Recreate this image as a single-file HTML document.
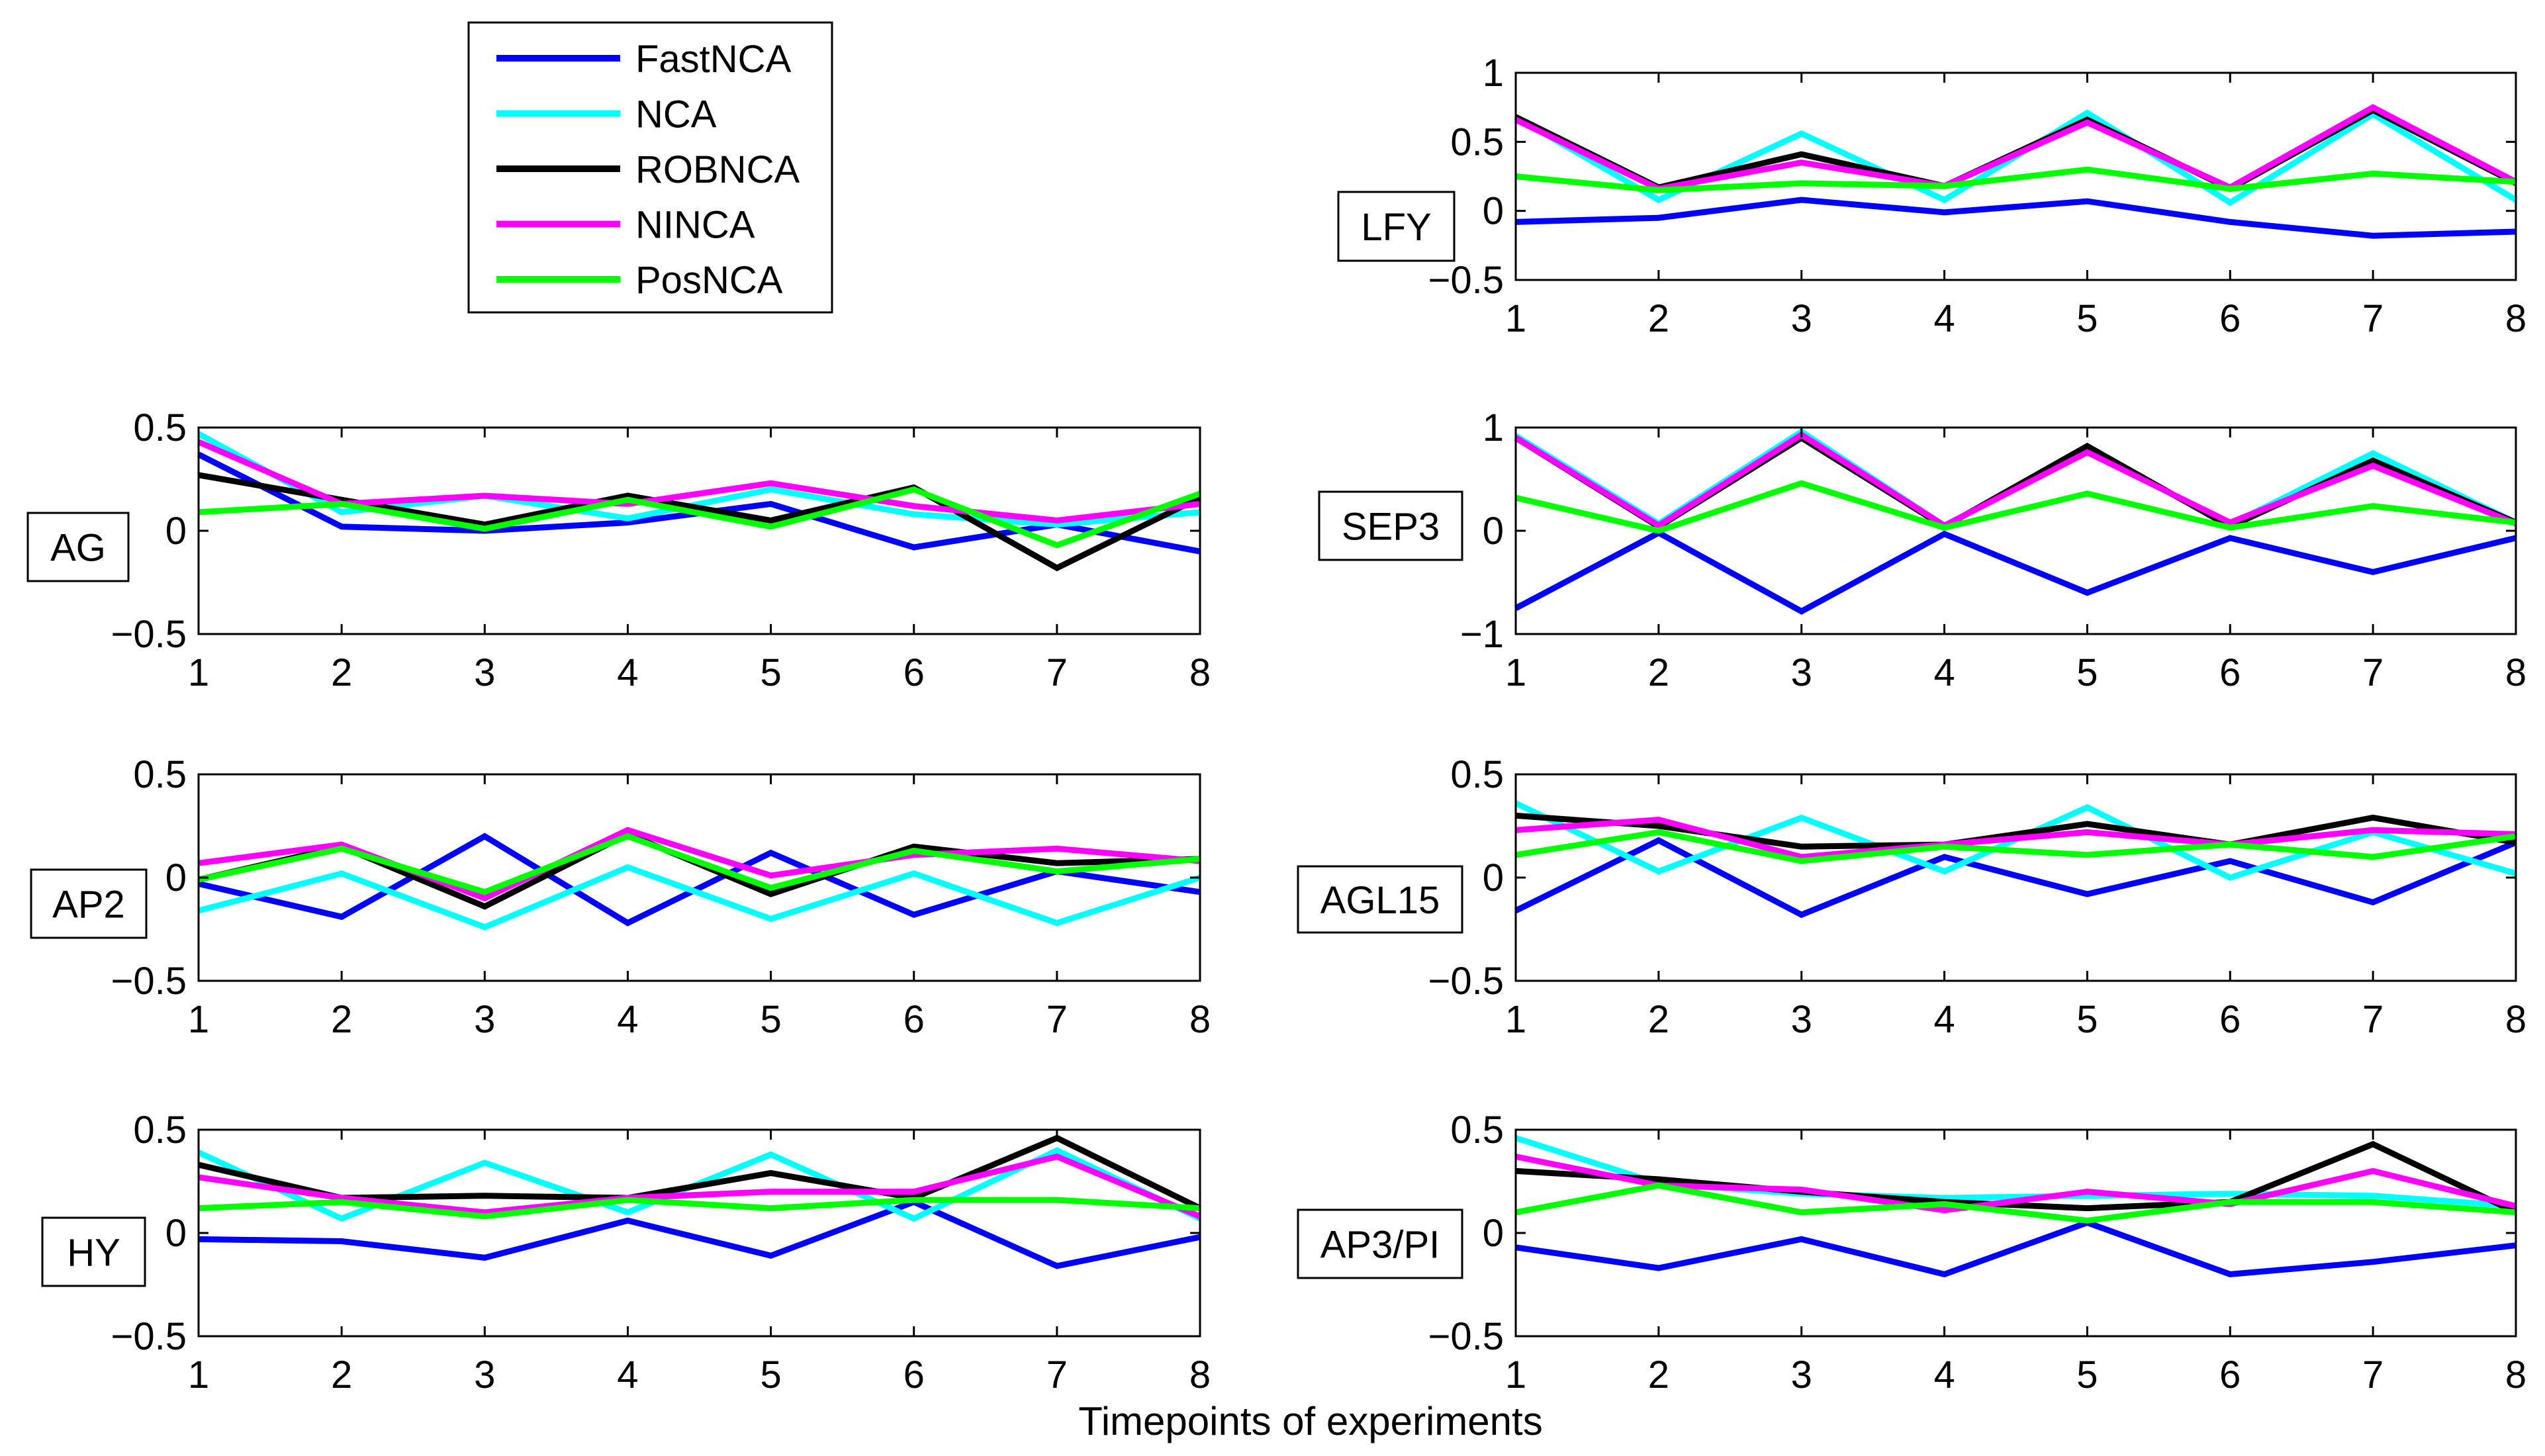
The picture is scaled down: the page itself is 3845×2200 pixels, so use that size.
<!DOCTYPE html>
<html><head><meta charset="utf-8">
<style>
html,body{margin:0;padding:0;background:#fff;}
svg{display:block;}
text{font-family:"Liberation Sans",Arial,sans-serif;fill:#000;}
</style></head>
<body>
<svg id="fig" width="3845" height="2200" viewBox="0 0 3845 2200" xmlns="http://www.w3.org/2000/svg">
<rect width="3845" height="2200" fill="#fff"/>
</svg>
<script>
const xCats=[1,2,3,4,5,6,7,8];
const seriesNames=["FastNCA","NCA","ROBNCA","NINCA","PosNCA"];
const seriesColors=["#0000ff","#00ffff","#000000","#ff00ff","#00ff00"];

const lfyFast=[-0.08,-0.05,0.08,-0.01,0.07,-0.08,-0.18,-0.15];
const lfyNca=[0.68,0.08,0.56,0.08,0.71,0.06,0.70,0.08];
const lfyRob=[0.68,0.17,0.41,0.18,0.66,0.16,0.73,0.20];
const lfyNinca=[0.66,0.16,0.35,0.18,0.64,0.17,0.75,0.21];
const lfyPos=[0.25,0.15,0.20,0.18,0.30,0.16,0.27,0.21];

const agFast=[0.37,0.02,0.0,0.04,0.13,-0.08,0.03,-0.10];
const agNca=[0.47,0.09,0.17,0.06,0.20,0.08,0.03,0.09];
const agRob=[0.27,0.15,0.03,0.17,0.05,0.21,-0.18,0.16];
const agNinca=[0.43,0.13,0.17,0.13,0.23,0.12,0.05,0.13];
const agPos=[0.09,0.13,0.01,0.15,0.02,0.20,-0.07,0.18];

const sepFast=[-0.75,-0.02,-0.78,-0.03,-0.60,-0.07,-0.40,-0.07];
const sepNca=[0.92,0.07,0.96,0.05,0.78,0.06,0.75,0.08];
const sepRob=[0.90,0.04,0.90,0.04,0.82,0.04,0.68,0.08];
const sepNinca=[0.90,0.05,0.93,0.05,0.76,0.08,0.63,0.07];
const sepPos=[0.32,0.0,0.46,0.03,0.36,0.03,0.24,0.08];

const ap2Fast=[-0.03,-0.19,0.20,-0.22,0.12,-0.18,0.03,-0.07];
const ap2Nca=[-0.16,0.02,-0.24,0.05,-0.20,0.02,-0.22,0.00];
const ap2Rob=[-0.01,0.15,-0.14,0.21,-0.08,0.15,0.07,0.09];
const ap2Ninca=[0.07,0.16,-0.10,0.23,0.01,0.11,0.14,0.08];
const ap2Pos=[-0.01,0.14,-0.07,0.20,-0.05,0.13,0.03,0.09];

const aglFast=[-0.16,0.18,-0.18,0.10,-0.08,0.08,-0.12,0.17];
const aglNca=[0.36,0.03,0.29,0.03,0.34,0.00,0.22,0.02];
const aglRob=[0.30,0.25,0.15,0.16,0.26,0.16,0.29,0.17];
const aglNinca=[0.23,0.28,0.10,0.16,0.22,0.16,0.23,0.21];
const aglPos=[0.11,0.22,0.08,0.15,0.11,0.16,0.10,0.20];

const hyFast=[-0.03,-0.04,-0.12,0.06,-0.11,0.15,-0.16,-0.02];
const hyNca=[0.39,0.07,0.34,0.10,0.38,0.07,0.40,0.07];
const hyRob=[0.33,0.17,0.18,0.17,0.29,0.17,0.46,0.12];
const hyNinca=[0.27,0.17,0.10,0.17,0.20,0.20,0.37,0.08];
const hyPos=[0.12,0.15,0.08,0.16,0.12,0.16,0.16,0.12];

const ap3Fast=[-0.07,-0.17,-0.03,-0.20,0.05,-0.20,-0.14,-0.06];
const ap3Nca=[0.46,0.24,0.19,0.17,0.18,0.19,0.18,0.13];
const ap3Rob=[0.30,0.26,0.20,0.15,0.12,0.15,0.43,0.10];
const ap3Ninca=[0.37,0.23,0.21,0.11,0.20,0.14,0.30,0.13];
const ap3Pos=[0.10,0.23,0.10,0.14,0.06,0.15,0.15,0.10];

const ticksLFY=[-0.5,0,0.5,1];
const ticksSEP=[-1,0,1];
const ticksStd=[-0.5,0,0.5];
const tickLabelsLFY=["\u22120.5","0","0.5","1"];
const tickLabelsSEP=["\u22121","0","1"];
const tickLabelsStd=["\u22120.5","0","0.5"];

const NS="http://www.w3.org/2000/svg";
const svg=document.getElementById('fig');
function mk(tag,attrs,parent){const e=document.createElementNS(NS,tag);for(const k in attrs)e.setAttribute(k,attrs[k]);(parent||svg).appendChild(e);return e;}

const panels=[
 {name:"LFY",x0:2290,x1:3801,y0:110,y1:423,ymin:-0.5,ymax:1,ticks:ticksLFY,tl:tickLabelsLFY,data:[lfyFast,lfyNca,lfyRob,lfyNinca,lfyPos],box:[2022,290,175,104]},
 {name:"AG",x0:300,x1:1813,y0:646,y1:958,ymin:-0.5,ymax:0.5,ticks:ticksStd,tl:tickLabelsStd,data:[agFast,agNca,agRob,agNinca,agPos],box:[42,775,152,103]},
 {name:"SEP3",x0:2290,x1:3801,y0:646,y1:958,ymin:-1,ymax:1,ticks:ticksSEP,tl:tickLabelsSEP,data:[sepFast,sepNca,sepRob,sepNinca,sepPos],box:[1993,743,216,103]},
 {name:"AP2",x0:300,x1:1813,y0:1170,y1:1482,ymin:-0.5,ymax:0.5,ticks:ticksStd,tl:tickLabelsStd,data:[ap2Fast,ap2Nca,ap2Rob,ap2Ninca,ap2Pos],box:[47,1314,174,103]},
 {name:"AGL15",x0:2290,x1:3801,y0:1170,y1:1482,ymin:-0.5,ymax:0.5,ticks:ticksStd,tl:tickLabelsStd,data:[aglFast,aglNca,aglRob,aglNinca,aglPos],box:[1961,1309,248,100]},
 {name:"HY",x0:300,x1:1813,y0:1707,y1:2019,ymin:-0.5,ymax:0.5,ticks:ticksStd,tl:tickLabelsStd,data:[hyFast,hyNca,hyRob,hyNinca,hyPos],box:[64,1840,155,103]},
 {name:"AP3/PI",x0:2290,x1:3801,y0:1707,y1:2019,ymin:-0.5,ymax:0.5,ticks:ticksStd,tl:tickLabelsStd,data:[ap3Fast,ap3Nca,ap3Rob,ap3Ninca,ap3Pos],box:[1961,1828,248,103]}
];

panels.forEach(p=>{
  const slug=p.name.toLowerCase().replace('/','-');
  const g=mk('g',{});
  
  
  const xs=v=>p.x0+(v-1)/(xCats.length-1)*(p.x1-p.x0);
  const ys=v=>p.y1-(v-p.ymin)/(p.ymax-p.ymin)*(p.y1-p.y0);
  // series
  p.data.forEach((arr,si)=>{
    const pts=arr.map((v,i)=>xs(xCats[i]).toFixed(1)+','+ys(v).toFixed(1)).join(' ');
    const pl=mk('polyline',{points:pts,fill:'none',stroke:seriesColors[si],'stroke-width':9,'stroke-linejoin':'miter'},g);
    
    
  });
  // axes box
  const bx=mk('rect',{x:p.x0,y:p.y0,width:p.x1-p.x0,height:p.y1-p.y0,fill:'none',stroke:'#000','stroke-width':3},g);
  
  
  // x ticks
  xCats.forEach(c=>{
    const x=xs(c);
    mk('line',{x1:x,x2:x,y1:p.y1,y2:p.y1-15,stroke:'#000','stroke-width':3},g);
    mk('line',{x1:x,x2:x,y1:p.y0,y2:p.y0+15,stroke:'#000','stroke-width':3},g);
    const t=mk('text',{x:x,y:p.y1+78,'font-size':58,'text-anchor':'middle'},g);
    t.textContent=String(c);
    
    
  });
  p.ticks.forEach((v,i)=>{
    const y=ys(v);
    mk('line',{x1:p.x0,x2:p.x0+15,y1:y,y2:y,stroke:'#000','stroke-width':3},g);
    mk('line',{x1:p.x1,x2:p.x1-15,y1:y,y2:y,stroke:'#000','stroke-width':3},g);
    const t=mk('text',{x:p.x0-18,y:y+20,'font-size':58,'text-anchor':'end'},g);
    t.textContent=p.tl[i];
    
    
  });
  // label box
  const b=p.box;
  const lr=mk('rect',{x:b[0],y:b[1],width:b[2],height:b[3],fill:'#fff',stroke:'#000','stroke-width':3},g);
  
  
  const lt=mk('text',{x:b[0]+b[2]/2,y:b[1]+b[3]/2+21,'font-size':58,'text-anchor':'middle'},g);
  lt.textContent=p.name;
  
  
});

// legend
const lg=mk('g',{});


const lb=mk('rect',{x:708,y:34,width:549,height:438,fill:'#fff',stroke:'#000','stroke-width':3},lg);


seriesNames.forEach((n,i)=>{
  const y=88+i*83.5;
  const l=mk('line',{x1:750,x2:937,y1:y,y2:y,stroke:seriesColors[i],'stroke-width':10},lg);
  
  
  const t=mk('text',{x:960,y:y+21,'font-size':58},lg);
  t.textContent=n;
  
  
});

const xl=mk('text',{x:1980,y:2168,'font-size':60,'text-anchor':'middle'});
xl.textContent='Timepoints of experiments';


</script>
</body></html>
